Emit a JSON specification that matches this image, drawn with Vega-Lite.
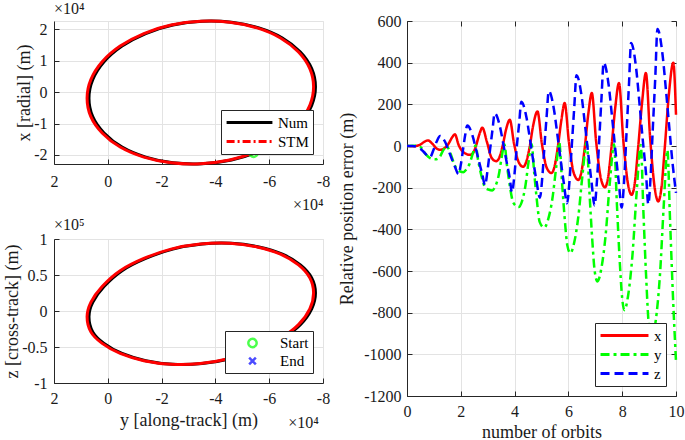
{
  "$schema": "https://vega.github.io/schema/vega-lite/v6.json",
  "autosize": {"type": "pad"},
  "padding": {"left": 3, "top": 0, "right": 0, "bottom": 0},
  "background": "white",
  "config": {
    "font": "Liberation Serif",
    "view": {"stroke": null},
    "axis": {
      "labelFont": "Liberation Serif", "titleFont": "Liberation Serif",
      "labelFontSize": 16, "titleFontSize": 18, "titleFontWeight": "normal",
      "labelColor": "#1a1a1a", "titleColor": "#1a1a1a",
      "domainColor": "#262626", "tickColor": "#262626", "gridColor": "#e3e3e3",
      "tickSize": -5, "labelPadding": 12, "labelFlush": false, "labelOverlap": false, "grid": true
    },
    "legend": {
      "labelFont": "Liberation Serif", "labelFontSize": 15, "labelColor": "#000000",
      "strokeColor": "#262626", "fillColor": "#ffffff", "padding": 4, "rowPadding": 2,
      "cornerRadius": 0, "labelLimit": 200
    },
    "title": {"font": "Liberation Serif", "fontSize": 16, "fontWeight": "normal", "color": "#1a1a1a", "anchor": "start", "frame": "group", "offset": -2}
  },
  "datasets": {
    "orb": [
      {"s":"Num","i":0,"a":0.70,"r":-0.19,"c":-0.08},{"s":"Num","i":1,"a":0.56,"r":0.40,"c":0.12},{"s":"Num","i":2,"a":0.14,"r":0.97,"c":0.34},{"s":"Num","i":3,"a":-0.53,"r":1.47,"c":0.56},
      {"s":"Num","i":4,"a":-1.41,"r":1.87,"c":0.73},{"s":"Num","i":5,"a":-2.42,"r":2.14,"c":0.86},{"s":"Num","i":6,"a":-3.51,"r":2.26,"c":0.93},{"s":"Num","i":7,"a":-4.60,"r":2.23,"c":0.94},
      {"s":"Num","i":8,"a":-5.62,"r":2.05,"c":0.89},{"s":"Num","i":9,"a":-6.49,"r":1.73,"c":0.79},{"s":"Num","i":10,"a":-7.16,"r":1.28,"c":0.64},{"s":"Num","i":11,"a":-7.58,"r":0.75,"c":0.46},
      {"s":"Num","i":12,"a":-7.72,"r":0.17,"c":0.25},{"s":"Num","i":13,"a":-7.58,"r":-0.42,"c":0.03},{"s":"Num","i":14,"a":-7.16,"r":-0.99,"c":-0.19},{"s":"Num","i":15,"a":-6.49,"r":-1.49,"c":-0.38},
      {"s":"Num","i":16,"a":-5.62,"r":-1.89,"c":-0.54},{"s":"Num","i":17,"a":-4.60,"r":-2.16,"c":-0.66},{"s":"Num","i":18,"a":-3.51,"r":-2.28,"c":-0.73},{"s":"Num","i":19,"a":-2.42,"r":-2.25,"c":-0.74},
      {"s":"Num","i":20,"a":-1.41,"r":-2.07,"c":-0.69},{"s":"Num","i":21,"a":-0.53,"r":-1.75,"c":-0.59},{"s":"Num","i":22,"a":0.14,"r":-1.30,"c":-0.45},{"s":"Num","i":23,"a":0.56,"r":-0.78,"c":-0.29},
      {"s":"STM","i":0,"a":0.77,"r":-0.19,"c":-0.08},{"s":"STM","i":1,"a":0.63,"r":0.40,"c":0.12},{"s":"STM","i":2,"a":0.21,"r":0.97,"c":0.34},{"s":"STM","i":3,"a":-0.46,"r":1.47,"c":0.56},
      {"s":"STM","i":4,"a":-1.34,"r":1.87,"c":0.73},{"s":"STM","i":5,"a":-2.35,"r":2.14,"c":0.86},{"s":"STM","i":6,"a":-3.44,"r":2.26,"c":0.93},{"s":"STM","i":7,"a":-4.53,"r":2.23,"c":0.94},
      {"s":"STM","i":8,"a":-5.55,"r":2.05,"c":0.89},{"s":"STM","i":9,"a":-6.42,"r":1.73,"c":0.79},{"s":"STM","i":10,"a":-7.09,"r":1.28,"c":0.64},{"s":"STM","i":11,"a":-7.51,"r":0.75,"c":0.46},
      {"s":"STM","i":12,"a":-7.65,"r":0.17,"c":0.25},{"s":"STM","i":13,"a":-7.51,"r":-0.42,"c":0.03},{"s":"STM","i":14,"a":-7.09,"r":-0.99,"c":-0.19},{"s":"STM","i":15,"a":-6.42,"r":-1.49,"c":-0.38},
      {"s":"STM","i":16,"a":-5.55,"r":-1.89,"c":-0.54},{"s":"STM","i":17,"a":-4.53,"r":-2.16,"c":-0.66},{"s":"STM","i":18,"a":-3.44,"r":-2.28,"c":-0.73},{"s":"STM","i":19,"a":-2.35,"r":-2.25,"c":-0.74},
      {"s":"STM","i":20,"a":-1.34,"r":-2.07,"c":-0.69},{"s":"STM","i":21,"a":-0.46,"r":-1.75,"c":-0.59},{"s":"STM","i":22,"a":0.21,"r":-1.30,"c":-0.45},{"s":"STM","i":23,"a":0.63,"r":-0.78,"c":-0.29}
    ],
    "pts": [
      {"pt":"Start","a":-5.42,"r":-1.93,"c":-0.55},
      {"pt":"End","a":-5.6,"r":-1.87,"c":-0.5}
    ],
    "err": [
      {"c":"x","t":0,"v":0},{"c":"x","t":0.25,"v":-1},{"c":"x","t":0.48,"v":6},{"c":"x","t":0.62,"v":18},{"c":"x","t":0.77,"v":27},{"c":"x","t":0.95,"v":10},{"c":"x","t":1.1,"v":-12},{"c":"x","t":1.23,"v":-18},{"c":"x","t":1.4,"v":-10},{"c":"x","t":1.55,"v":12},{"c":"x","t":1.67,"v":40},{"c":"x","t":1.78,"v":56},{"c":"x","t":1.92,"v":5},{"c":"x","t":2.1,"v":-30},{"c":"x","t":2.33,"v":-42},{"c":"x","t":2.45,"v":-35},{"c":"x","t":2.57,"v":3},{"c":"x","t":2.7,"v":60},{"c":"x","t":2.8,"v":88},{"c":"x","t":2.97,"v":20},{"c":"x","t":3.15,"v":-58},{"c":"x","t":3.32,"v":-73},{"c":"x","t":3.44,"v":-53},{"c":"x","t":3.56,"v":3},{"c":"x","t":3.69,"v":83},{"c":"x","t":3.82,"v":126},{"c":"x","t":3.98,"v":11},{"c":"x","t":4.16,"v":-80},{"c":"x","t":4.32,"v":-100},{"c":"x","t":4.44,"v":-73},{"c":"x","t":4.56,"v":-5},{"c":"x","t":4.69,"v":98},{"c":"x","t":4.85,"v":166},{"c":"x","t":5.01,"v":15},{"c":"x","t":5.19,"v":-103},{"c":"x","t":5.37,"v":-130},{"c":"x","t":5.49,"v":-96},{"c":"x","t":5.61,"v":-2},{"c":"x","t":5.74,"v":125},{"c":"x","t":5.86,"v":206},{"c":"x","t":6.02,"v":18},{"c":"x","t":6.2,"v":-130},{"c":"x","t":6.37,"v":-163},{"c":"x","t":6.49,"v":-121},{"c":"x","t":6.61,"v":-5},{"c":"x","t":6.74,"v":154},{"c":"x","t":6.87,"v":254},{"c":"x","t":7.03,"v":23},{"c":"x","t":7.21,"v":-157},{"c":"x","t":7.36,"v":-198},{"c":"x","t":7.48,"v":-148},{"c":"x","t":7.6,"v":-8},{"c":"x","t":7.74,"v":182},{"c":"x","t":7.88,"v":302},{"c":"x","t":8.04,"v":29},{"c":"x","t":8.22,"v":-186},{"c":"x","t":8.35,"v":-234},{"c":"x","t":8.47,"v":-176},{"c":"x","t":8.59,"v":-12},{"c":"x","t":8.74,"v":210},{"c":"x","t":8.88,"v":350},{"c":"x","t":9.04,"v":36},{"c":"x","t":9.22,"v":-211},{"c":"x","t":9.34,"v":-266},{"c":"x","t":9.46,"v":-199},{"c":"x","t":9.58,"v":-13},{"c":"x","t":9.73,"v":240},{"c":"x","t":9.9,"v":400},{"c":"x","t":10,"v":150},
      {"c":"y","t":0,"v":0},{"c":"y","t":0.3,"v":1},{"c":"y","t":0.5,"v":-5},{"c":"y","t":0.7,"v":-40},{"c":"y","t":0.86,"v":-58},{"c":"y","t":1.05,"v":-64},{"c":"y","t":1.2,"v":-55},{"c":"y","t":1.35,"v":-20},{"c":"y","t":1.47,"v":0},{"c":"y","t":1.6,"v":-30},{"c":"y","t":1.75,"v":-85},{"c":"y","t":1.9,"v":-118},{"c":"y","t":2.09,"v":-126},{"c":"y","t":2.2,"v":-113},{"c":"y","t":2.33,"v":-84},{"c":"y","t":2.45,"v":-34},{"c":"y","t":2.55,"v":2},{"c":"y","t":2.65,"v":-73},{"c":"y","t":2.77,"v":-144},{"c":"y","t":2.9,"v":-198},{"c":"y","t":3.05,"v":-210},{"c":"y","t":3.17,"v":-213},{"c":"y","t":3.29,"v":-191},{"c":"y","t":3.41,"v":-140},{"c":"y","t":3.52,"v":-54},{"c":"y","t":3.62,"v":8},{"c":"y","t":3.72,"v":-97},{"c":"y","t":3.83,"v":-197},{"c":"y","t":3.95,"v":-272},{"c":"y","t":4.15,"v":-293},{"c":"y","t":4.28,"v":-263},{"c":"y","t":4.4,"v":-193},{"c":"y","t":4.52,"v":-75},{"c":"y","t":4.63,"v":10},{"c":"y","t":4.73,"v":-131},{"c":"y","t":4.83,"v":-263},{"c":"y","t":4.93,"v":-364},{"c":"y","t":5.1,"v":-392},{"c":"y","t":5.25,"v":-351},{"c":"y","t":5.4,"v":-257},{"c":"y","t":5.55,"v":-97},{"c":"y","t":5.66,"v":18},{"c":"y","t":5.76,"v":-168},{"c":"y","t":5.86,"v":-344},{"c":"y","t":5.96,"v":-477},{"c":"y","t":6.07,"v":-514},{"c":"y","t":6.22,"v":-461},{"c":"y","t":6.37,"v":-338},{"c":"y","t":6.53,"v":-131},{"c":"y","t":6.68,"v":18},{"c":"y","t":6.78,"v":-216},{"c":"y","t":6.88,"v":-436},{"c":"y","t":6.98,"v":-603},{"c":"y","t":7.08,"v":-650},{"c":"y","t":7.23,"v":-584},{"c":"y","t":7.38,"v":-433},{"c":"y","t":7.54,"v":-176},{"c":"y","t":7.7,"v":8},{"c":"y","t":7.8,"v":-271},{"c":"y","t":7.9,"v":-533},{"c":"y","t":8.0,"v":-732},{"c":"y","t":8.08,"v":-788},{"c":"y","t":8.23,"v":-709},{"c":"y","t":8.38,"v":-526},{"c":"y","t":8.54,"v":-217},{"c":"y","t":8.69,"v":5},{"c":"y","t":8.79,"v":-321},{"c":"y","t":8.89,"v":-627},{"c":"y","t":8.99,"v":-860},{"c":"y","t":9.1,"v":-925},{"c":"y","t":9.25,"v":-835},{"c":"y","t":9.4,"v":-626},{"c":"y","t":9.55,"v":-273},{"c":"y","t":9.68,"v":-20},{"c":"y","t":9.78,"v":-360},{"c":"y","t":9.88,"v":-700},{"c":"y","t":10,"v":-1034},
      {"c":"z","t":0,"v":0},{"c":"z","t":0.2,"v":0},{"c":"z","t":0.4,"v":-5},{"c":"z","t":0.6,"v":-25},{"c":"z","t":0.75,"v":-45},{"c":"z","t":0.86,"v":-53},{"c":"z","t":0.98,"v":-20},{"c":"z","t":1.1,"v":20},{"c":"z","t":1.23,"v":48},{"c":"z","t":1.42,"v":19},{"c":"z","t":1.54,"v":-20},{"c":"z","t":1.67,"v":-64},{"c":"z","t":1.79,"v":-102},{"c":"z","t":1.91,"v":-135},{"c":"z","t":2.0,"v":-90},{"c":"z","t":2.08,"v":-20},{"c":"z","t":2.16,"v":50},{"c":"z","t":2.24,"v":98},{"c":"z","t":2.43,"v":52},{"c":"z","t":2.55,"v":-8},{"c":"z","t":2.68,"v":-76},{"c":"z","t":2.8,"v":-137},{"c":"z","t":2.9,"v":-188},{"c":"z","t":3.0,"v":-110},{"c":"z","t":3.09,"v":-15},{"c":"z","t":3.18,"v":80},{"c":"z","t":3.26,"v":157},{"c":"z","t":3.45,"v":96},{"c":"z","t":3.57,"v":17},{"c":"z","t":3.7,"v":-74},{"c":"z","t":3.82,"v":-154},{"c":"z","t":3.9,"v":-222},{"c":"z","t":4.0,"v":-130},{"c":"z","t":4.08,"v":-5},{"c":"z","t":4.17,"v":110},{"c":"z","t":4.25,"v":212},{"c":"z","t":4.44,"v":138},{"c":"z","t":4.56,"v":42},{"c":"z","t":4.69,"v":-69},{"c":"z","t":4.81,"v":-165},{"c":"z","t":4.94,"v":-248},{"c":"z","t":5.03,"v":-150},{"c":"z","t":5.11,"v":0},{"c":"z","t":5.19,"v":140},{"c":"z","t":5.27,"v":264},{"c":"z","t":5.46,"v":178},{"c":"z","t":5.58,"v":65},{"c":"z","t":5.71,"v":-65},{"c":"z","t":5.83,"v":-178},{"c":"z","t":5.95,"v":-275},{"c":"z","t":6.04,"v":-170},{"c":"z","t":6.13,"v":10},{"c":"z","t":6.22,"v":190},{"c":"z","t":6.3,"v":340},{"c":"z","t":6.49,"v":240},{"c":"z","t":6.61,"v":109},{"c":"z","t":6.74,"v":-41},{"c":"z","t":6.86,"v":-172},{"c":"z","t":6.97,"v":-285},{"c":"z","t":7.06,"v":-170},{"c":"z","t":7.15,"v":40},{"c":"z","t":7.23,"v":230},{"c":"z","t":7.31,"v":400},{"c":"z","t":7.5,"v":289},{"c":"z","t":7.62,"v":143},{"c":"z","t":7.75,"v":-24},{"c":"z","t":7.87,"v":-170},{"c":"z","t":7.98,"v":-295},{"c":"z","t":8.07,"v":-170},{"c":"z","t":8.16,"v":60},{"c":"z","t":8.25,"v":290},{"c":"z","t":8.33,"v":495},{"c":"z","t":8.52,"v":371},{"c":"z","t":8.64,"v":208},{"c":"z","t":8.77,"v":22},{"c":"z","t":8.89,"v":-140},{"c":"z","t":8.97,"v":-280},{"c":"z","t":9.05,"v":-160},{"c":"z","t":9.14,"v":90},{"c":"z","t":9.23,"v":330},{"c":"z","t":9.31,"v":562},{"c":"z","t":9.5,"v":438},{"c":"z","t":9.62,"v":278},{"c":"z","t":9.75,"v":90},{"c":"z","t":9.87,"v":-80},{"c":"z","t":10,"v":-225}
    ]
  },
  "hconcat": [
    {
      "vconcat": [
        {
          "width": 269, "height": 143,
          "title": {"text": "×10⁴"},
          "view": {"stroke": "#e3e3e3"},
          "encoding": {
            "x": {"field": "a", "type": "quantitative", "scale": {"domain": [2, -8], "nice": false, "zero": false},
                  "axis": {"values": [2, 0, -2, -4, -6, -8], "labelExpr": "'' + datum.value", "labelPadding": 14, "title": "×10⁴", "titleAnchor": "end", "titleFontSize": 16, "titlePadding": 7}},
            "y": {"field": "r", "type": "quantitative", "scale": {"domain": [-2.29, 2.27], "nice": false, "zero": false},
                  "axis": {"values": [-2, -1, 0, 1, 2], "labelExpr": "'' + datum.value", "title": "x [radial] (m)", "titlePadding": 0}}
          },
          "layer": [
            {
              "data": {"name": "orb"},
              "transform": [{"filter": "datum.s === 'Num'"}],
              "mark": {"type": "line", "interpolate": "cardinal-closed", "strokeWidth": 3},
              "encoding": {
                "order": {"field": "i", "type": "quantitative"},
                "color": {"field": "s", "type": "nominal", "scale": {"domain": ["Num", "STM"], "range": ["#000000", "#ff0000"]},
                          "legend": {"title": null, "orient": "bottom-right", "offset": 10, "symbolType": "stroke", "symbolSize": 2100, "symbolStrokeWidth": 3, "clipHeight": 17,
                                     "encode": {"symbols": {"update": {"strokeDash": {"signal": "datum.value === 'STM' ? [8, 3, 2, 3] : [1, 0]"}}}}}}
              }
            },
            {
              "data": {"name": "orb"},
              "transform": [{"filter": "datum.s === 'STM'"}],
              "mark": {"type": "line", "interpolate": "cardinal-closed", "strokeWidth": 3},
              "encoding": {
                "order": {"field": "i", "type": "quantitative"},
                "color": {"field": "s", "type": "nominal"}
              }
            },
            {
              "data": {"name": "pts"},
              "transform": [{"filter": "datum.pt === 'Start'"}],
              "mark": {"type": "point", "shape": "circle", "filled": false, "color": "#00ff00", "strokeWidth": 2.5, "size": 70}
            }
          ]
        },
        {
          "width": 269, "height": 144,
          "title": {"text": "×10⁵"},
          "view": {"stroke": "#e3e3e3"},
          "encoding": {
            "x": {"field": "a", "type": "quantitative", "scale": {"domain": [2, -8], "nice": false, "zero": false},
                  "axis": {"values": [2, 0, -2, -4, -6, -8], "labelExpr": "'' + datum.value", "labelPadding": 12, "title": "y [along-track] (m)", "titlePadding": 5}},
            "y": {"field": "c", "type": "quantitative", "scale": {"domain": [-1, 1], "nice": false, "zero": false},
                  "axis": {"values": [-1, -0.5, 0, 0.5, 1], "labelExpr": "'' + datum.value", "title": "z [cross-track] (m)", "titlePadding": 0}}
          },
          "layer": [
            {
              "data": {"name": "orb"},
              "transform": [{"filter": "datum.s === 'Num'"}],
              "mark": {"type": "line", "interpolate": "cardinal-closed", "strokeWidth": 3, "color": "#000000"},
              "encoding": {"order": {"field": "i", "type": "quantitative"}}
            },
            {
              "data": {"name": "orb"},
              "transform": [{"filter": "datum.s === 'STM'"}],
              "mark": {"type": "line", "interpolate": "cardinal-closed", "strokeWidth": 3, "color": "#ff0000"},
              "encoding": {"order": {"field": "i", "type": "quantitative"}}
            },
            {
              "data": {"name": "pts"},
              "mark": {"type": "point", "filled": false, "strokeWidth": 2.5, "size": 70},
              "encoding": {
                "color": {"field": "pt", "type": "nominal", "scale": {"domain": ["Start", "End"], "range": ["#00ff00", "#0000ff"]},
                          "legend": {"title": null, "orient": "bottom-right", "offset": 10, "symbolStrokeWidth": 2.5, "symbolSize": 70, "symbolOffset": 16, "labelOffset": 20, "clipHeight": 16}},
                "shape": {"field": "pt", "type": "nominal", "scale": {"domain": ["Start", "End"], "range": ["circle", "M-0.8,-0.8L0.8,0.8M0.8,-0.8L-0.8,0.8"]},
                          "legend": {"title": null, "orient": "bottom-right", "offset": 10, "symbolStrokeWidth": 2.5, "symbolSize": 70, "symbolOffset": 16, "labelOffset": 20, "clipHeight": 16}}
              }
            },
            {
              "data": {"values": [{"lab": "×10⁴", "a": -7.28, "c": -1.56}]},
              "mark": {"type": "text", "font": "Liberation Serif", "fontSize": 16, "color": "#1a1a1a", "baseline": "middle", "align": "center"},
              "encoding": {"text": {"field": "lab"}}
            }
          ]
        }
      ],
      "spacing": 75,
      "bounds": "flush",
      "resolve": {"scale": {"color": "independent", "shape": "independent"}, "legend": {"color": "independent", "shape": "independent"}}
    },
    {
      "width": 269, "height": 375,
      "title": {"text": " ", "offset": -10},
      "view": {"stroke": "#262626"},
      "data": {"name": "err"},
      "layer": [
        {
          "mark": {"type": "line", "interpolate": "monotone", "strokeWidth": 2.5},
          "encoding": {
            "x": {"field": "t", "type": "quantitative", "scale": {"domain": [0, 10], "nice": false, "zero": false},
                  "axis": {"values": [0, 2, 4, 6, 8, 10], "labelExpr": "'' + datum.value", "labelPadding": 12, "title": "number of orbits", "titlePadding": 4}},
            "y": {"field": "v", "type": "quantitative", "scale": {"domain": [-1200, 600], "nice": false, "zero": false},
                  "axis": {"values": [-1200, -1000, -800, -600, -400, -200, 0, 200, 400, 600], "labelExpr": "'' + datum.value", "labelPadding": 11, "title": "Relative position error (m)", "titlePadding": 7}},
            "color": {"field": "c", "type": "nominal", "scale": {"domain": ["x", "y", "z"], "range": ["#ff0000", "#00ff00", "#0000ff"]},
                      "legend": {"title": null, "orient": "bottom-right", "offset": 10, "symbolType": "stroke", "symbolSize": 2300, "symbolStrokeWidth": 3, "clipHeight": 17}},
            "strokeDash": {"field": "c", "type": "nominal", "scale": {"domain": ["x", "y", "z"], "range": [[1, 0], [9, 4, 3, 4], [9, 5]]},
                           "legend": {"title": null, "orient": "bottom-right", "offset": 10, "symbolType": "stroke", "symbolSize": 2300, "symbolStrokeWidth": 3, "clipHeight": 17}}
          }
        },
        {
          "mark": {"type": "point", "opacity": 0},
          "encoding": {
            "x": {"field": "t", "type": "quantitative", "axis": {"orient": "top", "values": [0, 2, 4, 6, 8, 10], "labels": false, "title": null, "grid": false, "domain": false}},
            "y": {"field": "v", "type": "quantitative", "axis": {"orient": "right", "values": [-1200, -1000, -800, -600, -400, -200, 0, 200, 400, 600], "labels": false, "title": null, "grid": false, "domain": false}}
          }
        }
      ],
      "resolve": {"axis": {"x": "independent", "y": "independent"}}
    }
  ],
  "spacing": 7,
  "resolve": {"scale": {"color": "independent", "strokeDash": "independent", "shape": "independent"}, "legend": {"color": "independent", "strokeDash": "independent", "shape": "independent"}}
}
